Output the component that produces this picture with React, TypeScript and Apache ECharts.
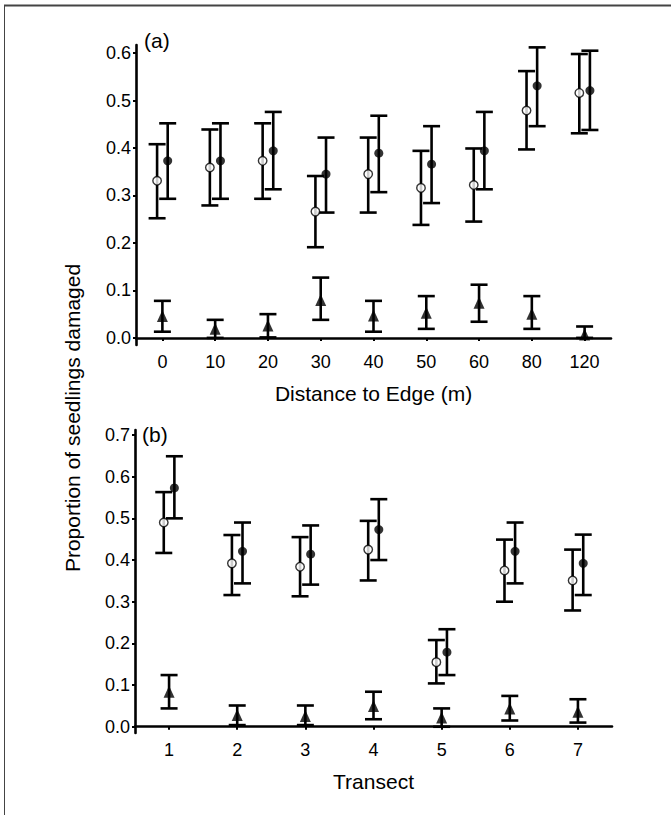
import React, { useEffect, useRef } from "react";
import * as echarts from "echarts";

const distCats = ["0", "10", "20", "30", "40", "50", "60", "80", "120"];
const openA = [0.331, 0.359, 0.373, 0.266, 0.345, 0.316, 0.322, 0.479, 0.516];
const openALow = [0.252, 0.279, 0.293, 0.191, 0.264, 0.238, 0.245, 0.397, 0.431];
const openAHigh = [0.408, 0.439, 0.452, 0.341, 0.422, 0.394, 0.399, 0.562, 0.598];
const fillA = [0.373, 0.373, 0.394, 0.345, 0.389, 0.366, 0.394, 0.531, 0.521];
const fillALow = [0.293, 0.293, 0.313, 0.264, 0.307, 0.284, 0.313, 0.446, 0.438];
const fillAHigh = [0.452, 0.452, 0.476, 0.422, 0.468, 0.446, 0.476, 0.612, 0.605];
const triA = [0.046, 0.019, 0.026, 0.08, 0.047, 0.053, 0.074, 0.051, 0.007];
const triALow = [0.013, 0.0, 0.001, 0.038, 0.013, 0.019, 0.034, 0.019, 0.0];
const triAHigh = [0.078, 0.038, 0.05, 0.127, 0.078, 0.088, 0.112, 0.088, 0.024];

const transCats = ["1", "2", "3", "4", "5", "6", "7"];
const openB = [0.49, 0.392, 0.384, 0.425, 0.155, 0.375, 0.351];
const openBLow = [0.417, 0.316, 0.313, 0.351, 0.104, 0.3, 0.279];
const openBHigh = [0.563, 0.46, 0.455, 0.494, 0.208, 0.449, 0.425];
const fillB = [0.573, 0.421, 0.414, 0.473, 0.179, 0.421, 0.392];
const fillBLow = [0.5, 0.344, 0.341, 0.4, 0.124, 0.344, 0.316];
const fillBHigh = [0.649, 0.49, 0.483, 0.546, 0.234, 0.49, 0.461];
const triB = [0.084, 0.028, 0.026, 0.05, 0.022, 0.044, 0.036];
const triBLow = [0.044, 0.004, 0.004, 0.018, 0.0, 0.015, 0.01];
const triBHigh = [0.124, 0.051, 0.051, 0.084, 0.044, 0.074, 0.066];

const ticksA = [0, 0.1, 0.2, 0.3, 0.4, 0.5, 0.6];
const ticksB = [0, 0.1, 0.2, 0.3, 0.4, 0.5, 0.6, 0.7];

const FONT = "Liberation Sans, Arial, sans-serif";
const OFF = 5.3;

function errSeries(axisIdx: number, vals: number[], lo: number[], hi: number[], offset: number) {
  return {
    type: "custom",
    xAxisIndex: axisIdx,
    yAxisIndex: axisIdx,
    z: 2,
    encode: { x: 0, y: 1 },
    data: vals.map((v, i) => [i, v, lo[i], hi[i]]),
    renderItem: (params: any, api: any) => {
      const i = api.value(0);
      const pLo = api.coord([i, api.value(2)]);
      const pHi = api.coord([i, api.value(3)]);
      const cx = pLo[0] + offset;
      const hw = 8.5;
      const st = { stroke: "#000", lineWidth: 2.6 };
      return {
        type: "group",
        children: [
          { type: "line", shape: { x1: cx, y1: pLo[1], x2: cx, y2: pHi[1] }, style: st },
          { type: "line", shape: { x1: cx - hw, y1: pLo[1], x2: cx + hw, y2: pLo[1] }, style: st },
          { type: "line", shape: { x1: cx - hw, y1: pHi[1], x2: cx + hw, y2: pHi[1] }, style: st },
        ],
      };
    },
  };
}

function markSeries(axisIdx: number, vals: number[], kind: "open" | "fill" | "tri") {
  const base: any = {
    type: "scatter",
    xAxisIndex: axisIdx,
    yAxisIndex: axisIdx,
    z: 3,
    data: vals.map((v, i) => [i, v]),
  };
  if (kind === "open") {
    base.symbol = "circle";
    base.symbolSize = 8.5;
    base.symbolOffset = [-OFF, 0];
    base.itemStyle = { color: "#fff", borderColor: "#000", borderWidth: 1.4 };
  } else if (kind === "fill") {
    base.symbol = "circle";
    base.symbolSize = 9;
    base.symbolOffset = [OFF, 0];
    base.itemStyle = { color: "#000" };
  } else {
    base.symbol = "triangle";
    base.symbolSize = [11, 12];
    base.itemStyle = { color: "#000" };
  }
  return base;
}

function yAxis(gridIndex: number, max: number, ticks: number[]) {
  return {
    type: "value",
    gridIndex,
    min: -0.015,
    max,
    splitLine: { show: false },
    axisLine: { show: true, lineStyle: { color: "#000", width: 2.6 } },
    axisTick: { show: true, length: 3, inside: false, lineStyle: { color: "#000", width: 2 }, customValues: ticks },
    axisLabel: {
      color: "#000",
      fontSize: 18,
      fontFamily: FONT,
      margin: 5,
      customValues: ticks,
      formatter: (v: number) => v.toFixed(1),
    },
  };
}

function xAxis(gridIndex: number, cats: string[], name: string) {
  return {
    type: "category",
    gridIndex,
    data: cats,
    boundaryGap: true,
    name,
    nameLocation: "middle",
    nameGap: 38,
    nameTextStyle: { color: "#000", fontSize: 21, fontFamily: FONT },
    axisLine: { show: true, lineStyle: { color: "#000", width: 2.6 } },
    axisTick: { show: true, alignWithLabel: true, length: 3, lineStyle: { color: "#000", width: 2 } },
    axisLabel: { color: "#000", fontSize: 18, fontFamily: FONT, margin: 8 },
    splitLine: { show: false },
  };
}

export default function App() {
  const ref = useRef<HTMLDivElement>(null);
  useEffect(() => {
    if (!ref.current) return;
    const chart = echarts.init(ref.current, null, { renderer: "svg" });
    chart.setOption({
      animation: false,
      backgroundColor: "#fff",
      grid: [
        { left: 136, top: 45, width: 475, height: 300 },
        { left: 135, top: 430, width: 477, height: 303 },
      ],
      xAxis: [xAxis(0, distCats, "Distance to Edge (m)"), xAxis(1, transCats, "Transect")],
      yAxis: [yAxis(0, 0.617, ticksA), yAxis(1, 0.712, ticksB)],
      graphic: [
        { type: "line", shape: { x1: 4, y1: 5.5, x2: 671, y2: 5.5 }, style: { stroke: "#444", lineWidth: 2.2 } },
        { type: "line", shape: { x1: 4.5, y1: 5, x2: 4.5, y2: 815 }, style: { stroke: "#444", lineWidth: 1 } },
        { type: "text", x: 144, y: 40, style: { text: "(a)", fontSize: 21, fontFamily: FONT, fill: "#000", verticalAlign: "middle" } },
        { type: "text", x: 142, y: 434, style: { text: "(b)", fontSize: 21, fontFamily: FONT, fill: "#000", verticalAlign: "middle" } },
        {
          type: "text",
          x: 72,
          y: 418,
          rotation: Math.PI / 2,
          style: { text: "Proportion of seedlings damaged", fontSize: 21, fontFamily: FONT, fill: "#000", align: "center", verticalAlign: "middle" },
        },
      ],
      series: [
        errSeries(0, openA, openALow, openAHigh, -OFF),
        errSeries(0, fillA, fillALow, fillAHigh, OFF),
        errSeries(0, triA, triALow, triAHigh, 0),
        markSeries(0, openA, "open"),
        markSeries(0, fillA, "fill"),
        markSeries(0, triA, "tri"),
        errSeries(1, openB, openBLow, openBHigh, -OFF),
        errSeries(1, fillB, fillBLow, fillBHigh, OFF),
        errSeries(1, triB, triBLow, triBHigh, 0),
        markSeries(1, openB, "open"),
        markSeries(1, fillB, "fill"),
        markSeries(1, triB, "tri"),
      ],
    });
    return () => chart.dispose();
  }, []);
  return <div ref={ref} style={{ width: 671, height: 815, position: "absolute", left: 0, top: 0 }} />;
}
